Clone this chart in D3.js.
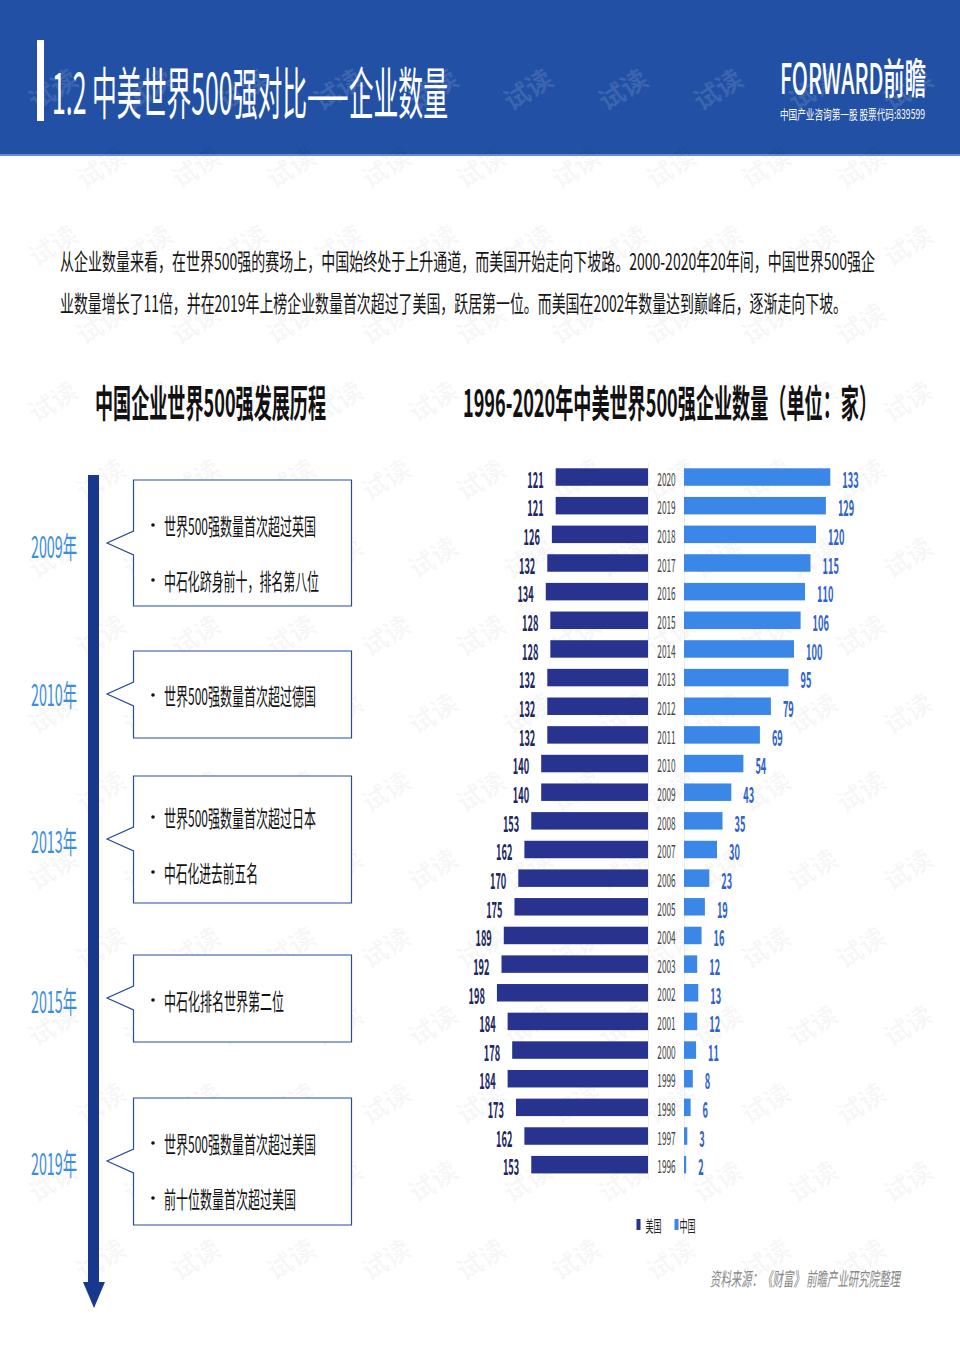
<!DOCTYPE html>
<html><head><meta charset="utf-8">
<script src="https://cdn.jsdelivr.net/npm/d3@7"></script>
<style>
body{margin:0;background:#fff}
svg{display:block}
text{font-family:"Noto Sans CJK SC","Noto Sans",sans-serif}
</style>
</head><body>
<svg id="c" width="960" height="1357"></svg>
<script>
// ---------------- DATA ----------------
const years = [2020,2019,2018,2017,2016,2015,2014,2013,2012,2011,2010,2009,2008,2007,2006,2005,2004,2003,2002,2001,2000,1999,1998,1997,1996];
const usValues = [121,121,126,132,134,128,128,132,132,132,140,140,153,162,170,175,189,192,198,184,178,184,173,162,153];
const cnValues = [133,129,120,115,110,106,100,95,79,69,54,43,35,30,23,19,16,12,13,12,11,8,6,3,2];
const seriesNames = ["美国","中国"];
const milestoneYears = ["2009年","2010年","2013年","2015年","2019年"];
const milestoneItems = [
  ["世界500强数量首次超过英国","中石化跻身前十，排名第八位"],
  ["世界500强数量首次超过德国"],
  ["世界500强数量首次超过日本","中石化进去前五名"],
  ["中石化排名世界第二位"],
  ["世界500强数量首次超过美国","前十位数量首次超过美国"]
];
const titleText = "1.2  中美世界500强对比——企业数量";
const introLines = [
  "从企业数量来看，在世界500强的赛场上，中国始终处于上升通道，而美国开始走向下坡路。2000-2020年20年间，中国世界500强企",
  "业数量增长了11倍，并在2019年上榜企业数量首次超过了美国，跃居第一位。而美国在2002年数量达到巅峰后，逐渐走向下坡。"
];
const leftHeading = "中国企业世界500强发展历程";
const rightHeading = "1996-2020年中美世界500强企业数量（单位：家）";
const sourceText = "资料来源：《财富》 前瞻产业研究院整理";

// ---------------- STYLE ----------------
const C = {
  header:"#2150a5", us:"#28338f", cn:"#3b87e8", usLabel:"#1d2760", cnLabel:"#2f63c9",
  year:"#3b8de0", timeline:"#17388c", box:"#2b4c9b"
};

const svg = d3.select("#c");

function txt(parent, s, x, y, o){
  const t = parent.append("text").attr("x",x).attr("y",y).text(s)
    .attr("font-size",o.size).attr("fill",o.fill||"#111")
    .attr("text-anchor",o.anchor||"start").attr("dominant-baseline","central");
  if(o.w) t.attr("textLength",o.w).attr("lengthAdjust","spacingAndGlyphs");
  if(o.weight) t.attr("font-weight",o.weight);
  if(o.style) t.attr("font-style",o.style);
  return t;
}
function ntxt(parent, s, x, y, o){
  const g = parent.append("g").attr("transform",`translate(${x},${y}) scale(${o.sx},1)`);
  const t = g.append("text").attr("x",0).attr("y",0).text(s)
    .attr("font-size",o.size).attr("fill",o.fill).attr("text-anchor",o.anchor||"start")
    .attr("dominant-baseline","central");
  if(o.weight) t.attr("font-weight",o.weight);
  return t;
}

// ---------------- HEADER ----------------
svg.append("rect").attr("x",0).attr("y",0).attr("width",960).attr("height",155).attr("fill",C.header);
svg.append("rect").attr("x",0).attr("y",154).attr("width",960).attr("height",2).attr("fill","#5f8fd6");

// watermarks (behind content)
const wm = svg.append("g");
for(let r=0;r<18;r++){
  const y = 10 + r*78;
  if (y < 30 || y > 1330) continue;
  for(let k=-1;k<11;k++){
    const x = 100 + k*95 + (r%2? 47:0);
    if (x < 30 || x > 930) continue;
    wm.append("text").attr("transform",`translate(${x},${y}) rotate(-32)`)
      .attr("text-anchor","middle").attr("dominant-baseline","central")
      .attr("font-size",26).attr("font-weight",700)
      .attr("fill", y<150 ? "#ffffff" : "#000000")
      .attr("fill-opacity", y<150 ? 0.13 : 0.045)
      .text("试读");
  }
}

svg.append("rect").attr("x",37).attr("y",40).attr("width",7).attr("height",81).attr("fill","#fff");
txt(svg,titleText,52,89,{size:56,fill:"#fff",w:396});
txt(svg,"FORWARD前瞻",780,75,{size:42,fill:"#fff",w:146,weight:500});
txt(svg,"中国产业咨询第一股  股票代码:839599",780,113,{size:13,fill:"#fff",w:145});

// ---------------- INTRO ----------------
txt(svg,introLines[0],60,260,{size:23,fill:"#151515",w:815});
txt(svg,introLines[1],60,302,{size:23,fill:"#151515",w:787});

txt(svg,leftHeading,95,400,{size:38,fill:"#111",w:231,weight:700});
txt(svg,rightHeading,463,400,{size:38,fill:"#111",w:414,weight:700});

// ---------------- TIMELINE ----------------
const tl = svg.append("g");
tl.append("rect").attr("x",88).attr("y",475).attr("width",11).attr("height",808).attr("fill",C.timeline);
tl.append("path").attr("d","M83,1282 L105,1282 L94,1308 Z").attr("fill",C.timeline);

const boxes = [
  {top:480,bottom:606,tip:543,yearY:545,lines:[525,580]},
  {top:651,bottom:738,tip:694,yearY:693,lines:[695]},
  {top:776,bottom:903,tip:839,yearY:840,lines:[817,872]},
  {top:955,bottom:1042,tip:998,yearY:1000,lines:[1000]},
  {top:1098,bottom:1225,tip:1161,yearY:1162,lines:[1143,1198]}
];
const textWidths = [[152,155],[152],[152,94],[120],[152,132]];
const bx0=133.5, bx1=351.5, tipX=107, half=12;
boxes.forEach((b,i)=>{
  const p = `M${bx0},${b.tip-half} L${bx0},${b.top} L${bx1},${b.top} L${bx1},${b.bottom} L${bx0},${b.bottom} L${bx0},${b.tip+half} L${tipX},${b.tip} Z`;
  tl.append("path").attr("d",p).attr("fill","#fff").attr("stroke",C.box).attr("stroke-width",1.2);
  txt(tl,milestoneYears[i],31,b.yearY,{size:30,fill:C.year,w:46});
  milestoneItems[i].forEach((s,j)=>{
    const y=b.lines[j];
    tl.append("circle").attr("cx",153).attr("cy",y).attr("r",1.8).attr("fill","#111");
    txt(tl,s,164,y,{size:23,fill:"#111",w:textWidths[i][j]});
  });
});

// ---------------- BAR CHART ----------------
const y = d3.scaleBand().domain(years).range([462.7,1179]).paddingInner(0.39).paddingOuter(0.195);
const xUS = d3.scaleLinear().domain([0,200]).range([648,648-152.6]);
const xCN = d3.scaleLinear().domain([0,140]).range([684,684+154]);
const ch = svg.append("g");

ch.append("line").attr("x1",648.5).attr("x2",648.5).attr("y1",463).attr("y2",1180).attr("stroke","#eceef3");
ch.append("line").attr("x1",684.5).attr("x2",684.5).attr("y1",463).attr("y2",1180).attr("stroke","#eceef3");

years.forEach((yr,i)=>{
  const yy = y(yr), h = y.bandwidth(), cy = yy+h/2;
  ch.append("rect").attr("x",xUS(usValues[i])).attr("y",yy).attr("width",xUS(0)-xUS(usValues[i])).attr("height",h).attr("fill",C.us);
  ch.append("rect").attr("x",xCN(0)).attr("y",yy).attr("width",xCN(cnValues[i])-xCN(0)).attr("height",h).attr("fill",C.cn);
  ntxt(ch,String(usValues[i]),xUS(usValues[i])-12,cy+1,{size:22,sx:0.42,fill:C.usLabel,anchor:"end",weight:600});
  ntxt(ch,String(cnValues[i]),xCN(cnValues[i])+12,cy+1,{size:22,sx:0.42,fill:C.cnLabel,anchor:"start",weight:600});
  ntxt(ch,String(yr),666.5,cy+1,{size:18,sx:0.46,fill:"#444",anchor:"middle"});
});

// legend
const lg = svg.append("g");
lg.append("rect").attr("x",636.5).attr("y",1219).attr("width",4).attr("height",11).attr("fill",C.us);
txt(lg,seriesNames[0],645.5,1225,{size:16,fill:"#222",w:16});
lg.append("rect").attr("x",674.5).attr("y",1219).attr("width",4).attr("height",11).attr("fill",C.cn);
txt(lg,seriesNames[1],679.5,1225,{size:16,fill:"#222",w:16});

// source
txt(svg,sourceText,710,1277,{size:19,fill:"#888",w:190,style:"italic"});
</script>
</body></html>
